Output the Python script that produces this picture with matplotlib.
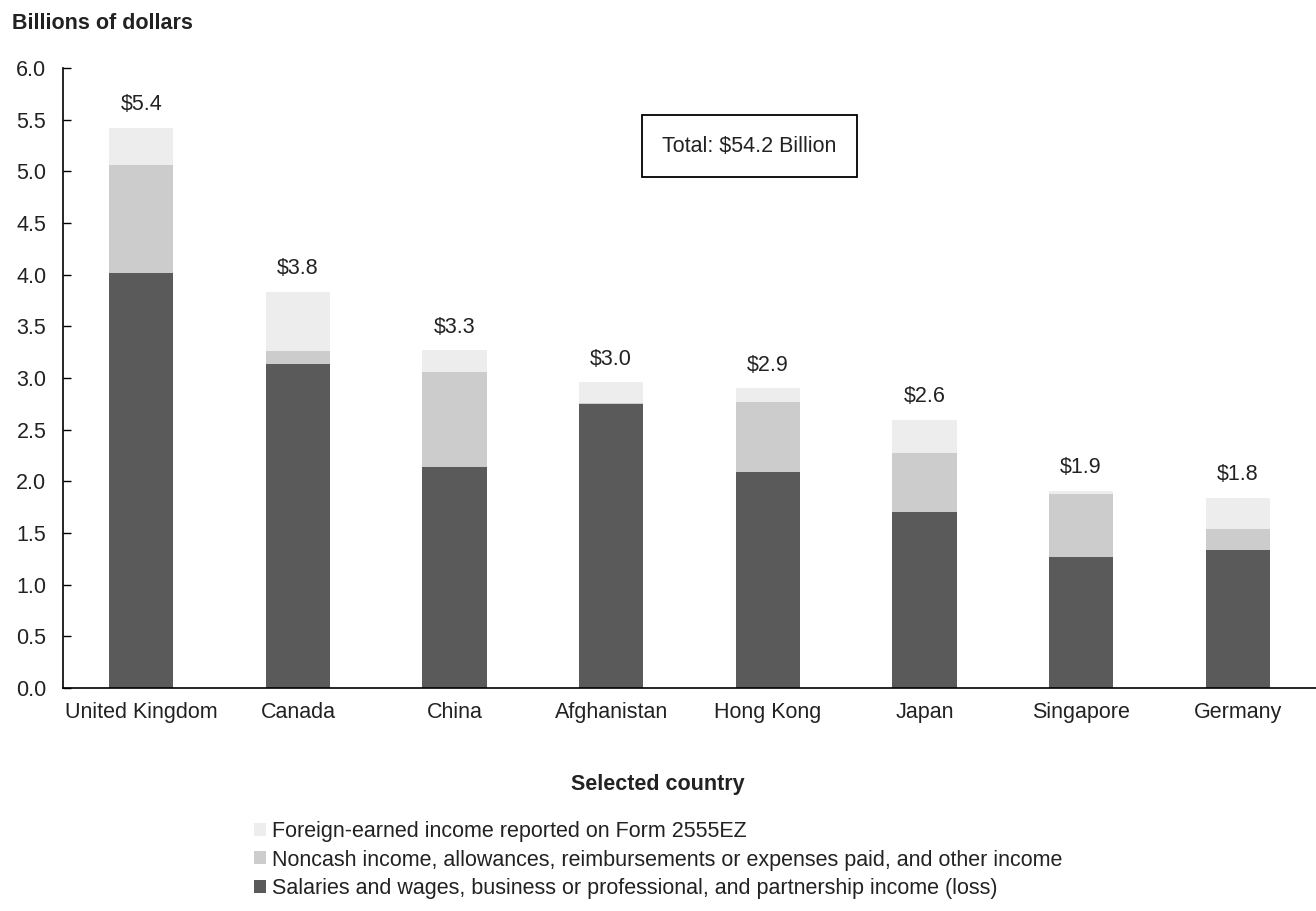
import numpy as np
import matplotlib.pyplot as plt
from matplotlib.patches import Patch

plt.rcParams['font.family'] = ['Liberation Sans', 'DejaVu Sans']
plt.rcParams['text.color'] = '#222222'

countries = ["United Kingdom", "Canada", "China", "Afghanistan",
             "Hong Kong", "Japan", "Singapore", "Germany"]
salaries = [4.02, 3.14, 2.14, 2.75, 2.09, 1.70, 1.27, 1.34]
noncash = [1.04, 0.12, 0.92, 0.01, 0.68, 0.57, 0.61, 0.20]
form_2555ez = [0.36, 0.575, 0.21, 0.20, 0.13, 0.325, 0.03, 0.30]

series_labels = [
    "Salaries and wages, business or professional, and partnership income (loss)",
    "Noncash income, allowances, reimbursements or expenses paid, and other income",
    "Foreign-earned income reported on Form 2555EZ",
]
colors = ["#5a5a5a", "#cccccc", "#ededed"]
total_label = "Total: $54.2 Billion"

fs = 15.5

fig = plt.figure(figsize=(13.16, 9.11), dpi=100)
ax = fig.add_axes([0.0479, 0.2448, 0.9521, 0.6806])

x = np.arange(len(countries))
width = 0.41
bottom = np.zeros(len(countries))
for vals, c in zip([salaries, noncash, form_2555ez], colors):
    ax.bar(x, vals, width, bottom=bottom, color=c, edgecolor='none')
    bottom += np.array(vals)

# totals above each stack
for xi, tot in zip(x, bottom):
    ax.annotate(f"${tot:.1f}", (xi, tot), xytext=(0, 9), textcoords='offset points',
                ha='center', va='bottom', fontsize=fs)

ax.set_xlim(-0.5, len(countries) - 0.5)
ax.set_ylim(0, 6)
ax.set_yticks(np.arange(0, 6.01, 0.5))
ax.set_yticklabels([f"{v:.1f}" for v in np.arange(0, 6.01, 0.5)])
ax.set_xticks(x)
ax.set_xticklabels(countries)
ax.tick_params(axis='y', direction='in', length=6, width=1, labelsize=fs, pad=12,
               labelcolor='#222222')
ax.tick_params(axis='x', length=0, labelsize=fs, pad=10, labelcolor='#222222')
for s in ['top', 'right']:
    ax.spines[s].set_visible(False)
for s in ['left', 'bottom']:
    ax.spines[s].set_linewidth(1.2)

fig.text(0.009, 0.974, "Billions of dollars", fontsize=fs, fontweight='bold', va='center')
fig.text(0.5, 0.139, "Selected country", fontsize=fs, fontweight='bold', ha='center', va='center')

fig.text(0.5695, 0.8397, total_label, ha='center', va='center', fontsize=fs,
         bbox=dict(boxstyle='square,pad=0.95', facecolor='white', edgecolor='black', linewidth=1.3))

handles = [Patch(facecolor=c, edgecolor='none') for c in colors][::-1]
fig.legend(handles, series_labels[::-1], loc='upper left', bbox_to_anchor=(0.193, 0.0985),
           frameon=False, fontsize=fs, handlelength=0.55, handleheight=0.55,
           handletextpad=0.3, labelspacing=0.34, borderpad=0, borderaxespad=0)

fig.savefig("out.png", dpi=100)
